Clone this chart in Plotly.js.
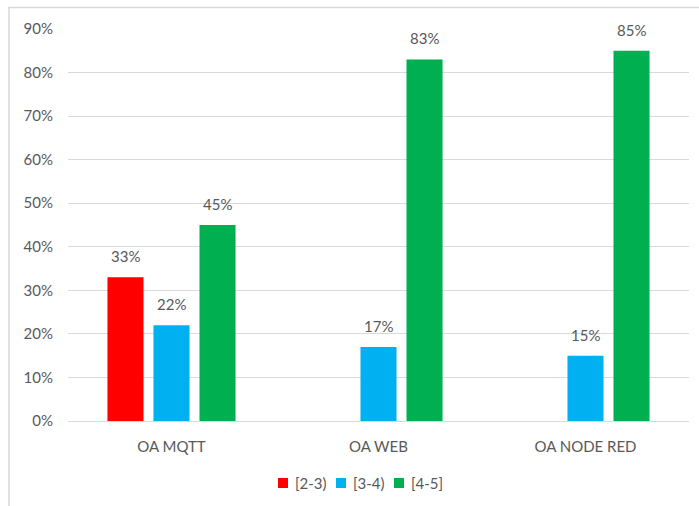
<!DOCTYPE html>
<html>
<head>
<meta charset="utf-8">
<script src="https://cdn.plot.ly/plotly-3.0.1.min.js"></script>
<style>html,body{margin:0;padding:0;background:#fff;}#chart{width:699px;height:506px;}</style>
</head>
<body>
<div id="chart"></div>
<script>
const categories = ["OA MQTT", "OA WEB", "OA NODE RED"];
const seriesNames = ["[2-3)", "[3-4)", "[4-5]"];
const values23 = [0.33, null, null];
const values34 = [0.22, 0.17, 0.15];
const values45 = [0.45, 0.83, 0.85];
const colors = ["#FF0000", "#00B0F0", "#00B050"];
const yTickVals = [0, 0.1, 0.2, 0.3, 0.4, 0.5, 0.6, 0.7, 0.8, 0.9];

const allValues = [values23, values34, values45];
const FONT = "Lato, 'Open Sans', sans-serif";
const TXT = "#595959";

const traces = allValues.map((vals, i) => ({
  type: "bar",
  name: seriesNames[i],
  x: categories,
  y: vals,
  marker: {color: colors[i]},
  hoverinfo: "none",
  showlegend: false
}));

const W = 699, H = 506, L = 68, R = 10, T = 29, B = 85;
const pw = W - L - R, ph = H - T - B;
const px = v => (v - L) / pw;
const py = v => 1 - (v - T) / ph;

// data labels positioned on the bar slots in category units
const slot = (1 - 0.333) / 3;
const annotations = [];
allValues.forEach((vals, s) => {
  vals.forEach((v, c) => {
    if (v == null) return;
    annotations.push({
      xref: "x", yref: "y",
      x: c + (s - 1) * slot, y: v,
      text: Math.round(v * 100) + "%",
      showarrow: false,
      yanchor: "bottom",
      yshift: 10,
      font: {family: FONT, size: 15, color: TXT}
    });
  });
});

const shapes = [{
  type: "rect", xref: "paper", yref: "paper",
  x0: px(9), x1: px(702), y0: py(510), y1: py(7.5),
  line: {color: "#d9d9d9", width: 1.5},
  fillcolor: "rgba(0,0,0,0)",
  layer: "below"
}];

// legend (bottom, centred)
const legX0 = 278, legPitch = 58, legY = 483;
seriesNames.forEach((name, i) => {
  const x = legX0 + i * legPitch;
  shapes.push({
    type: "rect", xref: "paper", yref: "paper",
    x0: px(x), x1: px(x + 10), y0: py(legY + 5), y1: py(legY - 5),
    line: {width: 0}, fillcolor: colors[i]
  });
  annotations.push({
    xref: "paper", yref: "paper",
    x: px(x + 15), y: py(legY),
    xanchor: "left", yanchor: "middle",
    text: name, showarrow: false,
    font: {family: FONT, size: 15, color: TXT}
  });
});

const layout = {
  width: W, height: H,
  margin: {l: L, r: R, t: T, b: B, pad: 0, autoexpand: false},
  paper_bgcolor: "#ffffff",
  plot_bgcolor: "#ffffff",
  barmode: "group",
  bargap: 0.333,
  bargroupgap: 0.217,
  font: {family: FONT, size: 15, color: TXT},
  showlegend: false,
  xaxis: {
    type: "category",
    showgrid: false,
    showline: true,
    linecolor: "#d9d9d9",
    linewidth: 1,
    ticks: "",
    ticklabelstandoff: 12,
    tickfont: {family: FONT, size: 15, color: TXT},
    fixedrange: true
  },
  yaxis: {
    range: [0, 0.9],
    tickvals: yTickVals,
    tickformat: ".0%",
    showgrid: true,
    gridcolor: "#d9d9d9",
    gridwidth: 1,
    zeroline: false,
    showline: false,
    ticks: "",
    ticklabelstandoff: 14,
    tickfont: {family: FONT, size: 15, color: TXT},
    fixedrange: true
  },
  annotations: annotations,
  shapes: shapes
};

Plotly.newPlot("chart", traces, layout, {displayModeBar: false, staticPlot: true});
</script>
</body>
</html>
